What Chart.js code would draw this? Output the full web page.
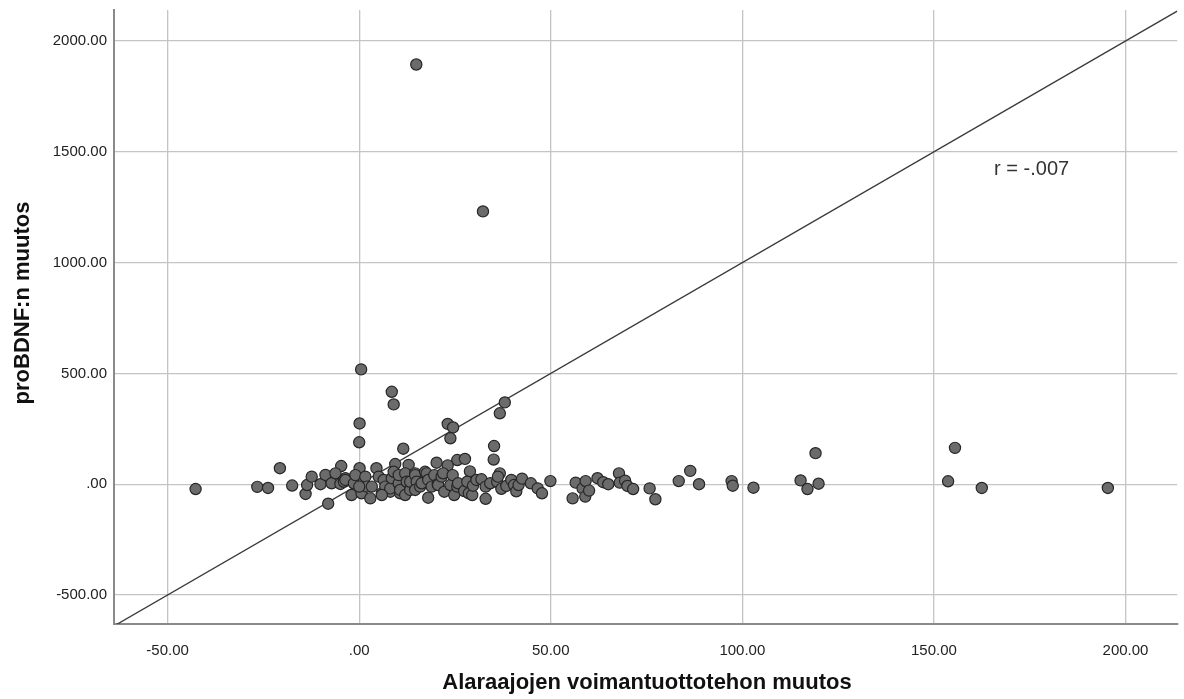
<!DOCTYPE html>
<html>
<head>
<meta charset="utf-8">
<title>proBDNF scatter</title>
<script src="https://cdn.jsdelivr.net/npm/chart.js@4.4.1/dist/chart.umd.min.js"></script>
<style>
  html, body { margin: 0; padding: 0; background: #ffffff; }
  #wrap { width: 1184px; height: 699px; position: relative; }
</style>
</head>
<body>
<div id="wrap"><canvas id="myChart" width="1184" height="699"></canvas></div>
<script>
// values
const voimaMuutos = [
  14.9, 32.3, 0.5, 8.5, 9.0, 38.0, 36.7, 0.1, 23.1, 24.5, 23.8, 0.0, 35.2, 11.5,
  35.1, 25.6, 27.6, 20.2, 23.1, 28.9, 36.7, 12.9, 9.4, -20.7, -4.7, 0.1, 4.5,
  -42.7, -26.6, -23.8, -17.5, -14.0, -13.6, -12.4, -10.1, -8.8, -8.1, -7.2, -6.2,
  -4.9, -4.0, -3.6, -3.6, -2.0, -1.4, -1.0, 0.6, 1.2, 1.6, 2.0, 2.9, 3.3, 5.1, 5.9,
  6.4, 6.8, 8.1, 8.1, 8.5, 9.0, 10.3, 10.3, 10.7, 10.7, 12.0, 12.0, 12.4, 13.3, 13.3,
  14.6, 14.6, 15.0, 14.6, 15.9, 16.3, 17.2, 17.6, 18.0, 18.0, 18.9, 19.6, 20.5,
  20.6, 21.5, 21.9, 22.2, 23.8, 24.4, 24.8, 25.6, 25.8, 27.4, 28.2, 28.6, 29.5,
  29.7, 30.6, 31.9, 33.0, 33.0, 34.2, 36.0, 36.2, 37.1, 38.4, 39.7, 40.4, 41.0,
  41.6, 42.5, 44.8, 46.6, 47.7, 49.9, 0.0, 5.9,
  55.7, 56.5, 58.3, 59.0, 59.1, 60.0, 62.2, 63.7, 65.0, 67.8, 68.0, 69.4, 70.0,
  71.5, 75.8, 77.3, 83.4, 86.4, 88.7, 97.2, 97.5, 102.9, 115.2, 117.0, 119.1,
  119.9, 153.7, 155.5, 162.5, 195.4
];
const proBdnfMuutos = [
  1894, 1231, 518, 417, 360, 369, 320, 274, 272, 256, 207, 189, 172, 160,
  111, 109, 114, 97, 85, 58, 49, 87, 91, 72, 82, 72, 72,
  -22, -12, -17, -6, -44, -4, 34, 0, 42, -88, 4, 49,
  1, 11, 27, 19, -49, 4, 41, -41, 11, 34, -11, -64, -11, 34, -41,
  19, -11, -34, -19, 27, 56, 4, 41, -41, -26, 49, -49, 11, -26, 11,
  49, 41, 11, -26, -11, 4, 56, 49, -61, 19, -11, 41, 0,
  -4, 34, 49, -34, -4, 41, -49, -11, 4, -31, 11, -41, -49,
  -7, 19, 22, -11, -66, 4, 11, 34, -21, -8, 19, -4, -32,
  -4, 25, 4, -19, -41, 14, -11, -49,
  -64, 7, -19, -56, 14, -29, 27, 9, 0, 49, 7, 16, -8,
  -22, -19, -68, 14, 60, 0, 14, -7, -16, 17, -22, 140,
  2, 13, 164, -17, -17
];

const xTicks = [-50, 0, 50, 100, 150, 200];
const yTicks = [-500, 0, 500, 1000, 1500, 2000];
const xMin = -64, xMax = 213.5;
const yMin = -631, yMax = 2140;
const xTitle = "Alaraajojen voimantuottotehon muutos";
const yTitle = "proBDNF:n muutos";
// reference line y = 10x, clipped by the plot area
const refLine = [
  { x: xMin, y: 10 * xMin },
  { x: xMax, y: 10 * xMax }
];
const rText = "r = -.007";
const rPos = { x: 175.5, y: 1418 };

const points = voimaMuutos.map((v, i) => ({ x: v, y: proBdnfMuutos[i] }));
const FONT = "'Liberation Sans', Arial, sans-serif";

function fmt(v) {
  if (v === 0) return ".00";
  return v.toFixed(2);
}

function noPad(s) {
  s.paddingLeft = 0;
  s.paddingRight = 0;
  s.paddingTop = 0;
  s.paddingBottom = 0;
}

// r label and the two axis titles
const extraText = {
  id: "extraText",
  afterDraw(chart) {
    const c = chart.ctx;
    const area = chart.chartArea;
    c.save();
    c.font = "20px " + FONT;
    c.fillStyle = "#333333";
    c.textAlign = "center";
    c.textBaseline = "middle";
    c.fillText(rText, chart.scales.x.getPixelForValue(rPos.x), chart.scales.y.getPixelForValue(rPos.y));

    c.font = "bold 22px " + FONT;
    c.fillStyle = "#111111";
    c.fillText(xTitle, 647, 683);
    c.translate(23, (area.top + area.bottom) / 2 - 14);
    c.rotate(-Math.PI / 2);
    c.fillText(yTitle, 0, 0);
    c.restore();
  }
};

const ctx = document.getElementById("myChart").getContext("2d");
new Chart(ctx, {
  type: "scatter",
  data: {
    datasets: [
      {
        label: "proBDNF",
        data: points,
        backgroundColor: "#6b6b6b",
        borderColor: "#262626",
        borderWidth: 1.2,
        pointRadius: 5.6,
        pointHoverRadius: 5.6,
        order: 1
      },
      {
        type: "line",
        label: "ref",
        data: refLine,
        borderColor: "#3a3a3a",
        borderWidth: 1.3,
        pointRadius: 0,
        fill: false,
        order: 2
      }
    ]
  },
  options: {
    responsive: false,
    animation: false,
    layout: { padding: { top: 10, right: 3, left: 0, bottom: 0 } },
    plugins: {
      legend: { display: false },
      tooltip: { enabled: false }
    },
    scales: {
      x: {
        type: "linear",
        min: xMin,
        max: xMax,
        afterBuildTicks: s => { s.ticks = xTicks.map(v => ({ value: v })); },
        afterFit: s => { s.height = 75; noPad(s); },
        grid: { color: "#c4c4c4", lineWidth: 1.3, drawTicks: false },
        border: { color: "#8a8a8a", width: 2 },
        ticks: {
          padding: 18,
          color: "#222222",
          font: { family: FONT, size: 15 },
          callback: v => fmt(v)
        },
        title: { display: false }
      },
      y: {
        type: "linear",
        min: yMin,
        max: yMax,
        afterBuildTicks: s => { s.ticks = yTicks.map(v => ({ value: v })); },
        afterFit: s => { s.width = 114; noPad(s); },
        grid: { color: "#c4c4c4", lineWidth: 1.3, drawTicks: false },
        border: { color: "#8a8a8a", width: 2 },
        ticks: {
          padding: 7,
          color: "#222222",
          font: { family: FONT, size: 15 },
          callback: v => fmt(v)
        },
        title: { display: false }
      }
    }
  },
  plugins: [extraText]
});
</script>
</body>
</html>
